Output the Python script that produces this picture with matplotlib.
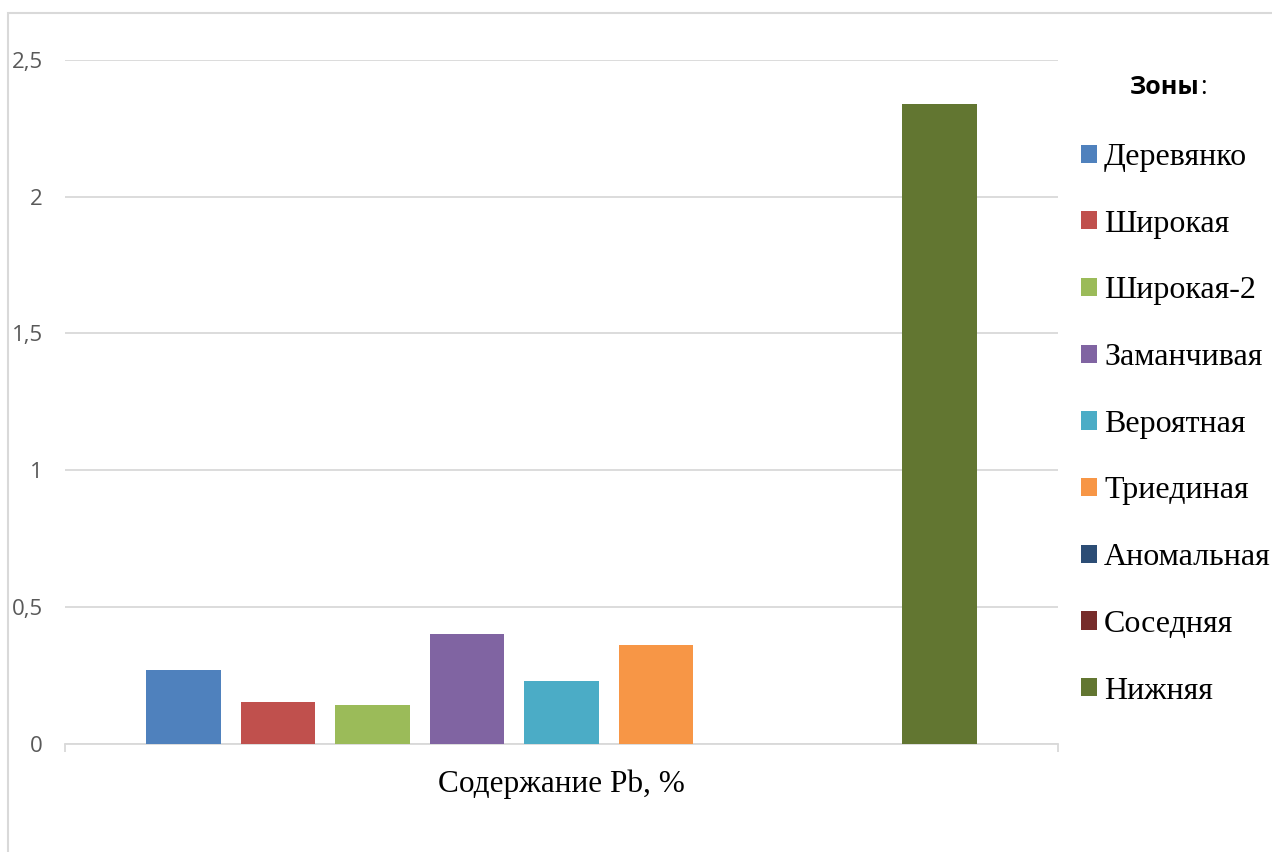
import matplotlib.pyplot as plt
import numpy as np
from matplotlib.patches import Rectangle

# data
zones = ['Деревянко', 'Широкая', 'Широкая-2', 'Заманчивая', 'Вероятная',
         'Триединая', 'Аномальная', 'Соседняя', 'Нижняя']
pb_values = [0.27, 0.15, 0.14, 0.40, 0.23, 0.36, 0.0, 0.0, 2.34]
colors = ['#4f81bd', '#c0504d', '#9bbb59', '#8064a2', '#4bacc6',
          '#f79646', '#2c4d75', '#772c2a', '#627631']
category = 'Содержание Pb, %'
yticks = [0, 0.5, 1, 1.5, 2, 2.5]
ytick_labels = ['0', '0,5', '1', '1,5', '2', '2,5']

W, H = 1272, 852
fig = plt.figure(figsize=(W / 100, H / 100), dpi=100)

# outer chart frame (light gray)
fig.patches.append(Rectangle((8 / W, -0.1), 1.2, 1 - 13 / H + 0.1,
                             transform=fig.transFigure, fill=False,
                             edgecolor='#d9d9d9', lw=1.5))

ax = fig.add_axes([65 / W, 108.5 / H, (1058 - 65) / W, (743.5 - 60) / H])

x = np.arange(len(zones))
bars = ax.bar(x, pb_values, width=0.79, color=colors, zorder=3)

ax.set_ylim(0, 2.5)
ax.set_xlim(-1.254, 9.254)
ax.set_yticks(yticks)
ax.set_yticklabels(ytick_labels, fontfamily='Open Sans', fontsize=16, color='#595959')
ax.tick_params(axis='y', length=0, pad=16)
ax.yaxis.grid(True, color='#d9d9d9', lw=1.3, zorder=0)

for s in ['top', 'right', 'left']:
    ax.spines[s].set_visible(False)
ax.spines['bottom'].set_color('#d9d9d9')
ax.spines['bottom'].set_linewidth(1.3)

# tick marks at the category edges, label in the middle
ax.set_xticks([-1.254, 9.254])
ax.set_xticklabels(['', ''])
ax.tick_params(axis='x', which='major', length=6, color='#d9d9d9', width=1.3)
ax.set_xticks([(len(zones) - 1) / 2], minor=True)
ax.set_xticklabels([category], minor=True, fontfamily='Liberation Serif', fontsize=22.5)
ax.tick_params(axis='x', which='minor', length=0, pad=19)

# legend
leg = fig.legend(bars, zones, loc='upper left', bbox_to_anchor=(1081 / W, 1 - 143 / H),
                 frameon=False, prop={'family': 'Liberation Serif', 'size': 23},
                 handlelength=0.5, handleheight=0.5, handletextpad=0.22,
                 labelspacing=1.18, borderpad=0, borderaxespad=0)

t = fig.text(1130 / W, 1 - 87 / H, 'Зоны', fontfamily='Open Sans', fontweight='bold',
             fontsize=18, ha='left', va='center')
ax.annotate(':', xy=(1, 0.5), xycoords=t, va='center', ha='left',
            fontfamily='Open Sans', fontsize=18)

fig.savefig('out.png', dpi=100)
